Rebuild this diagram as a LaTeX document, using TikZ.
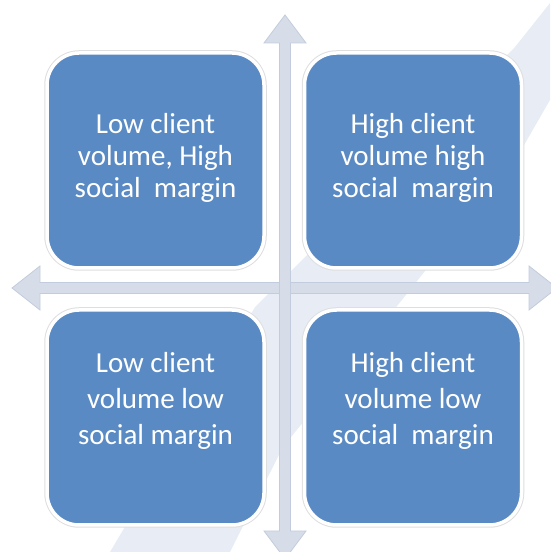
\documentclass[tikz,border=0pt]{standalone}
\usepackage{fontspec}
\setmainfont{Carlito}
\usetikzlibrary{positioning}

\definecolor{cellblue}{HTML}{5A8AC3}
\definecolor{axisfill}{HTML}{D6DDE9}
\definecolor{axisedge}{HTML}{C3CCDC}
\definecolor{bandgrey}{HTML}{E8EDF5}

\begin{document}
\begin{tikzpicture}[x=1pt,y=1pt,
  cell/.style={fill=cellblue, draw=white, line width=3.5pt, rounded corners=32pt,
    minimum width=217pt, minimum height=215pt, outer sep=0pt,
    preaction={draw=black!13, line width=5.5pt}},
  celltext/.style={text=white, align=center, font=\fontsize{29}{32}\selectfont},
  lowtext/.style={celltext, font=\fontsize{29}{36}\selectfont},
  axis/.style={fill=axisfill, draw=axisedge, line width=0.8pt, line join=miter}]

\useasboundingbox (0,0) rectangle (550,552);

% faint slash behind everything
\fill[bandgrey] (110,0) -- (255,245) -- (515,505) -- (550,549) -- (550,452)
  -- (523,405) -- (410,262) -- (283,105) -- (230,0) -- cycle;

% axes
\draw[axis] (12,264) -- (40,286) -- (40,269.5) -- (529,269.5) -- (529,286)
  -- (557,264) -- (529,242) -- (529,258.5) -- (40,258.5) -- (40,242) -- cycle;
\draw[axis] (285,537) -- (306,509) -- (290.5,509) -- (290.5,21) -- (306,21)
  -- (285,-7) -- (264,21) -- (279.5,21) -- (279.5,509) -- (264,509) -- cycle;
\fill[axisfill] (280,259) rectangle (290,269);

% cell centres
\coordinate (TL) at (155.5,391.5);
\coordinate (TR) at (413,391.5);
\coordinate (BL) at (155.5,134.5);
\coordinate (BR) at (413,134.5);

% cells
\node[cell] (tl) at (TL) {};
\node[cell] (tr) at (TR) {};
\node[cell] (bl) at (BL) {};
\node[cell] (br) at (BR) {};

% labels
\node[celltext] (tltext) at ([yshift=2.5pt]tl.center) {Low client\\volume, High\\social~~margin};
\node[celltext] (trtext) at ([yshift=2.5pt]tr.center) {High client\\volume high\\social~~margin};
\node[lowtext] (bltext) at ([yshift=16.5pt]bl.center) {Low client\\volume low\\social margin};
\node[lowtext] (brtext) at ([yshift=16.5pt]br.center) {High client\\volume low\\social~~margin};

\end{tikzpicture}
\end{document}
